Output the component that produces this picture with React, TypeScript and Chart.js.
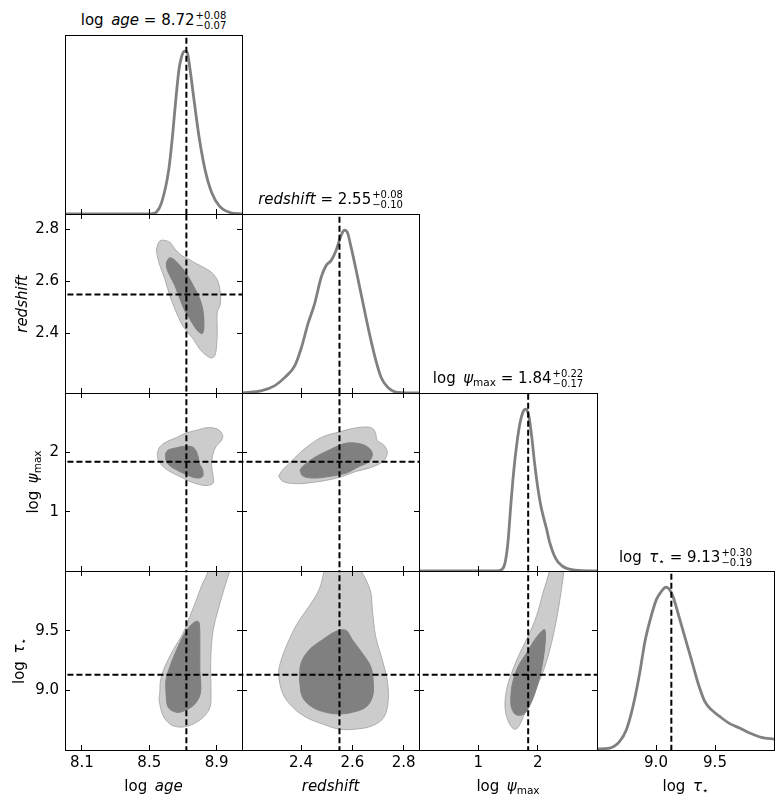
import React, { useEffect, useRef } from "react";
import { Chart, registerables } from "chart.js";

Chart.register(...registerables);

type Pt = [number, number];

// ---- axis ranges, ticks and medians -------------------------------------
const ageRange: Pt = [8.0, 9.05];
const zRange: Pt = [2.17, 2.86];
const psiRange: Pt = [0, 3];
const tauRange: Pt = [8.5, 10.0];

const ageTicks = [8.1, 8.5, 8.9];
const zTicks = [2.4, 2.6, 2.8];
const psiTicks = [1, 2];
const tauTicks = [9.0, 9.5];

const ageMedian = 8.72;
const zMedian = 2.55;
const psiMedian = 1.84;
const tauMedian = 9.13;

const ageErr = ["+0.08", "\u22120.07"];
const zErr = ["+0.08", "\u22120.10"];
const psiErr = ["+0.22", "\u22120.17"];
const tauErr = ["+0.30", "\u22120.19"];

// ---- 1D marginals (density scaled to peak = 1) ---------------------------
const ageGrid = [8.0, 8.5, 8.52, 8.543, 8.573, 8.616, 8.638, 8.656, 8.677, 8.698, 8.711, 8.725, 8.741, 8.767, 8.794, 8.83, 8.87, 8.915, 8.979, 9.05];
const ageDensity = [0, 0, 0.003, 0.012, 0.07, 0.276, 0.482, 0.688, 0.894, 0.987, 1.0, 0.993, 0.894, 0.688, 0.482, 0.276, 0.132, 0.05, 0.009, 0];

const zGrid = [2.17, 2.247, 2.298, 2.337, 2.376, 2.402, 2.427, 2.453, 2.479, 2.498, 2.518, 2.537, 2.554, 2.569, 2.58, 2.595, 2.615, 2.634, 2.653, 2.673, 2.692, 2.712, 2.738, 2.776, 2.86];
const zDensity = [0, 0.014, 0.045, 0.096, 0.168, 0.281, 0.425, 0.548, 0.713, 0.784, 0.815, 0.877, 0.959, 1.0, 0.99, 0.898, 0.754, 0.61, 0.466, 0.322, 0.199, 0.097, 0.035, 0.004, 0];

const psiGrid = [0, 1.3, 1.4, 1.45, 1.5, 1.55, 1.6, 1.65, 1.7, 1.75, 1.8, 1.85, 1.9, 1.95, 2.0, 2.05, 2.1, 2.15, 2.2, 2.3, 2.4, 2.5, 2.7, 3.0];
const psiDensity = [0, 0, 0.01, 0.05, 0.18, 0.42, 0.63, 0.79, 0.91, 0.98, 1.0, 0.96, 0.83, 0.66, 0.52, 0.41, 0.33, 0.26, 0.18, 0.08, 0.035, 0.015, 0.003, 0];

const tauGrid = [8.5, 8.608, 8.692, 8.749, 8.805, 8.862, 8.904, 8.947, 9.003, 9.046, 9.082, 9.11, 9.144, 9.186, 9.243, 9.3, 9.356, 9.413, 9.469, 9.54, 9.625, 9.709, 9.794, 9.893, 10.0];
const tauDensity = [0.006, 0.012, 0.053, 0.125, 0.268, 0.473, 0.658, 0.79, 0.924, 0.975, 1.0, 0.99, 0.944, 0.842, 0.698, 0.555, 0.412, 0.299, 0.248, 0.206, 0.162, 0.135, 0.104, 0.077, 0.067];

// ---- 2D credible regions (outer / inner outlines) ------------------------
const ageZOuter: Pt[] = [[8.543, 2.725], [8.559, 2.754], [8.582, 2.759], [8.622, 2.751], [8.652, 2.725], [8.692, 2.7], [8.731, 2.687], [8.781, 2.668], [8.84, 2.648], [8.879, 2.629], [8.909, 2.597], [8.923, 2.545], [8.919, 2.507], [8.903, 2.481], [8.903, 2.404], [8.899, 2.352], [8.889, 2.314], [8.87, 2.305], [8.84, 2.314], [8.8, 2.339], [8.761, 2.378], [8.721, 2.41], [8.692, 2.436], [8.652, 2.494], [8.622, 2.545], [8.592, 2.61], [8.563, 2.661], [8.547, 2.7]];
const ageZInner: Pt[] = [[8.602, 2.674], [8.618, 2.69], [8.642, 2.687], [8.682, 2.661], [8.721, 2.629], [8.761, 2.584], [8.8, 2.532], [8.82, 2.481], [8.824, 2.429], [8.816, 2.4], [8.796, 2.404], [8.771, 2.423], [8.741, 2.455], [8.711, 2.487], [8.682, 2.532], [8.652, 2.584], [8.622, 2.622], [8.602, 2.655]];

const agePsiOuter: Pt[] = [[8.547, 1.983], [8.563, 2.093], [8.602, 2.177], [8.662, 2.25], [8.711, 2.317], [8.781, 2.372], [8.85, 2.417], [8.909, 2.383], [8.935, 2.288], [8.929, 2.205], [8.895, 2.093], [8.876, 1.955], [8.87, 1.76], [8.879, 1.593], [8.879, 1.483], [8.85, 1.443], [8.8, 1.455], [8.741, 1.51], [8.682, 1.593], [8.622, 1.677], [8.582, 1.76], [8.553, 1.872]];
const agePsiInner: Pt[] = [[8.597, 1.983], [8.612, 2.038], [8.662, 2.077], [8.731, 2.105], [8.767, 2.066], [8.79, 1.927], [8.796, 1.817], [8.816, 1.705], [8.816, 1.593], [8.781, 1.567], [8.721, 1.622], [8.662, 1.705], [8.622, 1.772], [8.599, 1.872]];

const zPsiOuter: Pt[] = [[2.313, 1.593], [2.323, 1.677], [2.355, 1.817], [2.394, 1.983], [2.432, 2.122], [2.484, 2.26], [2.549, 2.343], [2.6, 2.4], [2.652, 2.427], [2.68, 2.4], [2.691, 2.317], [2.697, 2.205], [2.723, 2.122], [2.736, 2.01], [2.73, 1.9], [2.71, 1.817], [2.665, 1.733], [2.613, 1.677], [2.561, 1.593], [2.51, 1.538], [2.445, 1.493], [2.381, 1.472], [2.329, 1.51]];
const zPsiInner: Pt[] = [[2.396, 1.705], [2.413, 1.788], [2.458, 1.927], [2.51, 2.038], [2.561, 2.138], [2.6, 2.16], [2.646, 2.122], [2.672, 2.038], [2.678, 1.955], [2.665, 1.843], [2.626, 1.76], [2.575, 1.65], [2.51, 1.593], [2.445, 1.567], [2.406, 1.605]];

const ageTauOuter: Pt[] = [[8.563, 8.986], [8.559, 8.915], [8.582, 8.788], [8.622, 8.718], [8.662, 8.695], [8.711, 8.695], [8.761, 8.718], [8.82, 8.774], [8.86, 8.858], [8.866, 8.972], [8.864, 9.142], [8.866, 9.311], [8.879, 9.508], [8.909, 9.678], [8.943, 9.847], [8.979, 10.008], [8.995, 10.1], [8.84, 10.1], [8.85, 10.008], [8.81, 9.875], [8.781, 9.763], [8.741, 9.621], [8.701, 9.48], [8.642, 9.339], [8.592, 9.197], [8.567, 9.085]];
const ageTauInner: Pt[] = [[8.599, 8.972], [8.599, 9.085], [8.622, 9.197], [8.662, 9.339], [8.711, 9.48], [8.751, 9.551], [8.781, 9.579], [8.796, 9.565], [8.8, 9.396], [8.8, 9.169], [8.806, 9.028], [8.796, 8.943], [8.761, 8.873], [8.711, 8.831], [8.662, 8.816], [8.612, 8.858]];

const zTauOuter: Pt[] = [[2.5, 10.1], [2.491, 10.008], [2.471, 9.847], [2.432, 9.706], [2.387, 9.565], [2.348, 9.396], [2.323, 9.254], [2.313, 9.142], [2.329, 8.972], [2.368, 8.858], [2.42, 8.774], [2.484, 8.718], [2.549, 8.675], [2.613, 8.675], [2.678, 8.703], [2.723, 8.774], [2.74, 8.915], [2.736, 9.085], [2.717, 9.254], [2.691, 9.452], [2.678, 9.678], [2.672, 9.819], [2.652, 9.932], [2.633, 10.008], [2.62, 10.1]];
const zTauInner: Pt[] = [[2.394, 9.085], [2.4, 9.226], [2.432, 9.339], [2.484, 9.424], [2.536, 9.494], [2.575, 9.503], [2.6, 9.424], [2.639, 9.311], [2.672, 9.197], [2.682, 9.057], [2.678, 8.943], [2.652, 8.858], [2.6, 8.816], [2.549, 8.802], [2.497, 8.816], [2.445, 8.858], [2.406, 8.943]];

const psiTauOuter: Pt[] = [[2.23, 10.1], [2.204, 10.008], [2.091, 9.819], [1.98, 9.621], [1.838, 9.452], [1.698, 9.311], [1.558, 9.142], [1.474, 9.0], [1.45, 8.858], [1.501, 8.746], [1.597, 8.675], [1.669, 8.689], [1.754, 8.774], [1.867, 8.915], [2.007, 9.057], [2.12, 9.197], [2.233, 9.396], [2.317, 9.593], [2.384, 9.791], [2.445, 10.008], [2.47, 10.1]];
const psiTauInner: Pt[] = [[1.546, 8.943], [1.575, 9.057], [1.669, 9.197], [1.811, 9.311], [1.951, 9.424], [2.064, 9.494], [2.12, 9.508], [2.131, 9.424], [2.091, 9.254], [2.035, 9.113], [1.951, 8.972], [1.838, 8.845], [1.754, 8.797], [1.631, 8.797], [1.558, 8.858]];

// ---- styling -------------------------------------------------------------
const FONT = "'DejaVu Sans', 'Liberation Sans', sans-serif";
const OUTER_FILL = "rgb(204,204,204)";
const OUTER_EDGE = "rgb(172,172,172)";
const INNER_FILL = "rgb(128,128,128)";
const CURVE = "rgb(128,128,128)";

// grid cell edges in page pixels
const colEdges = [65, 242, 419, 597, 774];
const rowEdges = [35, 214, 393, 571, 750];

interface AxisDef {
  range: Pt;
  ticks: number[];
  decimals: number;
  median: number;
}

const AGE: AxisDef = { range: ageRange, ticks: ageTicks, decimals: 1, median: ageMedian };
const Z: AxisDef = { range: zRange, ticks: zTicks, decimals: 1, median: zMedian };
const PSI: AxisDef = { range: psiRange, ticks: psiTicks, decimals: 0, median: psiMedian };
const TAU: AxisDef = { range: tauRange, ticks: tauTicks, decimals: 1, median: tauMedian };
const DENS: AxisDef = { range: [0, 1.1], ticks: [], decimals: 0, median: NaN };

interface PanelSpec {
  row: number;
  col: number;
  x: AxisDef;
  y?: AxisDef;
  grid?: number[];
  density?: number[];
  outer?: Pt[];
  inner?: Pt[];
}

const panels: PanelSpec[] = [
  { row: 0, col: 0, x: AGE, grid: ageGrid, density: ageDensity },
  { row: 1, col: 0, x: AGE, y: Z, outer: ageZOuter, inner: ageZInner },
  { row: 1, col: 1, x: Z, grid: zGrid, density: zDensity },
  { row: 2, col: 0, x: AGE, y: PSI, outer: agePsiOuter, inner: agePsiInner },
  { row: 2, col: 1, x: Z, y: PSI, outer: zPsiOuter, inner: zPsiInner },
  { row: 2, col: 2, x: PSI, grid: psiGrid, density: psiDensity },
  { row: 3, col: 0, x: AGE, y: TAU, outer: ageTauOuter, inner: ageTauInner },
  { row: 3, col: 1, x: Z, y: TAU, outer: zTauOuter, inner: zTauInner },
  { row: 3, col: 2, x: PSI, y: TAU, outer: psiTauOuter, inner: psiTauInner },
  { row: 3, col: 3, x: TAU, grid: tauGrid, density: tauDensity },
];

const closed = (pts: Pt[]) => pts.concat([pts[0]]).map(([x, y]) => ({ x, y }));

function scaleOpts(axis: AxisDef, position: string, size: number, showLabels: boolean, showTicks: boolean) {
  const horizontal = position === "top" || position === "bottom";
  return {
    type: "linear",
    position,
    min: axis.range[0],
    max: axis.range[1],
    afterBuildTicks: (s: any) => {
      s.ticks = axis.ticks.map((v) => ({ value: v }));
    },
    afterFit: (s: any) => {
      if (horizontal) s.height = size;
      else s.width = size;
      s.paddingLeft = 0;
      s.paddingRight = 0;
      s.paddingTop = 0;
      s.paddingBottom = 0;
    },
    grid: {
      display: true,
      drawOnChartArea: false,
      drawTicks: showTicks,
      tickLength: -5,
      tickWidth: 1,
      tickColor: "#000",
      color: "#000",
      lineWidth: 1,
      z: 1,
    },
    border: { display: true, color: "#000", width: 1, z: 1 },
    ticks: {
      display: showLabels,
      autoSkip: false,
      maxRotation: 0,
      padding: horizontal ? 9 : 11,
      color: "#000",
      font: { family: FONT, size: 15 },
      callback: (v: any) => Number(v).toFixed(axis.decimals),
    },
  };
}

interface Pads {
  l: number;
  r: number;
  t: number;
  b: number;
}

function makeConfig(p: PanelSpec, pad: Pads): any {
  const diag = !p.y;
  const yAxis = p.y ?? DENS;
  const dash = {
    borderColor: "#000",
    borderWidth: 2,
    borderDash: [6, 3],
    pointRadius: 0,
    fill: false,
    tension: 0,
    order: 0,
    clip: 0,
  };
  const datasets: any[] = [
    { ...dash, data: [{ x: p.x.median, y: yAxis.range[0] - 1 }, { x: p.x.median, y: yAxis.range[1] + 1 }] },
  ];
  if (diag) {
    datasets.push({
      data: (p.grid as number[]).map((g, i) => ({ x: g, y: (p.density as number[])[i] })),
      borderColor: CURVE,
      borderWidth: 2.8,
      cubicInterpolationMode: "monotone",
      pointRadius: 0,
      fill: false,
      order: 1,
      clip: 0,
    });
  } else {
    datasets.push({ ...dash, data: [{ x: p.x.range[0] - 1, y: yAxis.median }, { x: p.x.range[1] + 1, y: yAxis.median }] });
    datasets.push({
      data: closed(p.inner as Pt[]),
      fill: "shape",
      backgroundColor: INNER_FILL,
      borderColor: INNER_FILL,
      borderWidth: 1,
      tension: 0.35,
      pointRadius: 0,
      order: 1,
      clip: 0,
    });
    datasets.push({
      data: closed(p.outer as Pt[]),
      fill: "shape",
      backgroundColor: OUTER_FILL,
      borderColor: OUTER_EDGE,
      borderWidth: 1,
      tension: 0.35,
      pointRadius: 0,
      order: 2,
      clip: 0,
    });
  }
  return {
    type: "line",
    data: { datasets },
    options: {
      responsive: false,
      animation: false,
      events: [],
      layout: { padding: 0 },
      plugins: { legend: { display: false }, tooltip: { enabled: false }, title: { display: false } },
      scales: {
        x: scaleOpts(p.x, "bottom", pad.b, p.row === 3, true),
        x2: scaleOpts(p.x, "top", pad.t, false, !diag),
        y: scaleOpts(yAxis, "left", pad.l, p.col === 0 && !diag, !diag),
        y2: scaleOpts(yAxis, "right", pad.r, false, !diag),
      },
    },
  };
}

function Panel({ spec }: { spec: PanelSpec }) {
  const ref = useRef<HTMLCanvasElement>(null);
  const pad: Pads = {
    l: spec.col === 0 && spec.row > 0 ? 62 : 4,
    r: 4,
    t: 4,
    b: spec.row === 3 ? 34 : 4,
  };
  const x0 = colEdges[spec.col];
  const x1 = colEdges[spec.col + 1];
  const y0 = rowEdges[spec.row];
  const y1 = rowEdges[spec.row + 1];
  const W = x1 - x0 + pad.l + pad.r;
  const H = y1 - y0 + pad.t + pad.b;

  useEffect(() => {
    const chart = new Chart(ref.current as HTMLCanvasElement, makeConfig(spec, pad));
    return () => chart.destroy();
  }, []);

  return (
    <canvas
      ref={ref}
      width={W}
      height={H}
      style={{ position: "absolute", left: x0 - pad.l, top: y0 - pad.t, width: W, height: H }}
    />
  );
}

const subStyle: React.CSSProperties = { fontSize: 10.5, position: "relative", top: 3 };

const ageLabel = (
  <>
    log{"\u2002"}
    <i>age</i>
  </>
);
const zLabel = <i>redshift</i>;
const psiLabel = (
  <>
    log{"\u2002"}
    <i>ψ</i>
    <span style={subStyle}>max</span>
  </>
);
const tauLabel = (
  <>
    log{"\u2002"}
    <i>τ</i>
    <span style={subStyle}>⋆</span>
  </>
);

const textBase: React.CSSProperties = {
  position: "absolute",
  fontFamily: FONT,
  fontSize: 15,
  lineHeight: 1,
  color: "#000",
  whiteSpace: "nowrap",
};

function Estimate({ cx, cy, label, value, err }: { cx: number; cy: number; label: React.ReactNode; value: number; err: string[] }) {
  return (
    <div style={{ ...textBase, left: cx, top: cy, transform: "translate(-50%,-50%)", display: "flex", alignItems: "center" }}>
      <span>
        {label}
        {" = "}
        {value.toFixed(2)}
      </span>
      <span style={{ display: "inline-flex", flexDirection: "column", fontSize: 10, lineHeight: "10px", marginLeft: 1 }}>
        <span>{err[0]}</span>
        <span>{err[1]}</span>
      </span>
    </div>
  );
}

function AxisLabel({ cx, cy, rotate, children }: { cx: number; cy: number; rotate?: boolean; children: React.ReactNode }) {
  return (
    <div
      style={{
        ...textBase,
        left: cx,
        top: cy,
        transform: rotate ? "translate(-50%,-50%) rotate(-90deg)" : "translate(-50%,-50%)",
      }}
    >
      {children}
    </div>
  );
}

export default function App() {
  const cxs = [0, 1, 2, 3].map((i) => (colEdges[i] + colEdges[i + 1]) / 2);
  const cys = [0, 1, 2, 3].map((i) => (rowEdges[i] + rowEdges[i + 1]) / 2);
  return (
    <div style={{ position: "absolute", left: 0, top: 0, width: 784, height: 807, background: "#fff", overflow: "hidden" }}>
      {panels.map((p) => (
        <Panel key={`${p.row}-${p.col}`} spec={p} />
      ))}
      <Estimate cx={cxs[0]} cy={20.5} label={ageLabel} value={ageMedian} err={ageErr} />
      <Estimate cx={cxs[1]} cy={199.7} label={zLabel} value={zMedian} err={zErr} />
      <Estimate cx={cxs[2]} cy={378.8} label={psiLabel} value={psiMedian} err={psiErr} />
      <Estimate cx={cxs[3]} cy={557.5} label={tauLabel} value={tauMedian} err={tauErr} />

      <AxisLabel cx={cxs[0]} cy={785.5}>{ageLabel}</AxisLabel>
      <AxisLabel cx={cxs[1]} cy={785.5}>{zLabel}</AxisLabel>
      <AxisLabel cx={cxs[2]} cy={785.5}>{psiLabel}</AxisLabel>
      <AxisLabel cx={cxs[3]} cy={785.5}>{tauLabel}</AxisLabel>

      <AxisLabel cx={21.5} cy={cys[1]} rotate>{zLabel}</AxisLabel>
      <AxisLabel cx={33} cy={cys[2]} rotate>{psiLabel}</AxisLabel>
      <AxisLabel cx={18.5} cy={cys[3]} rotate>{tauLabel}</AxisLabel>
    </div>
  );
}
